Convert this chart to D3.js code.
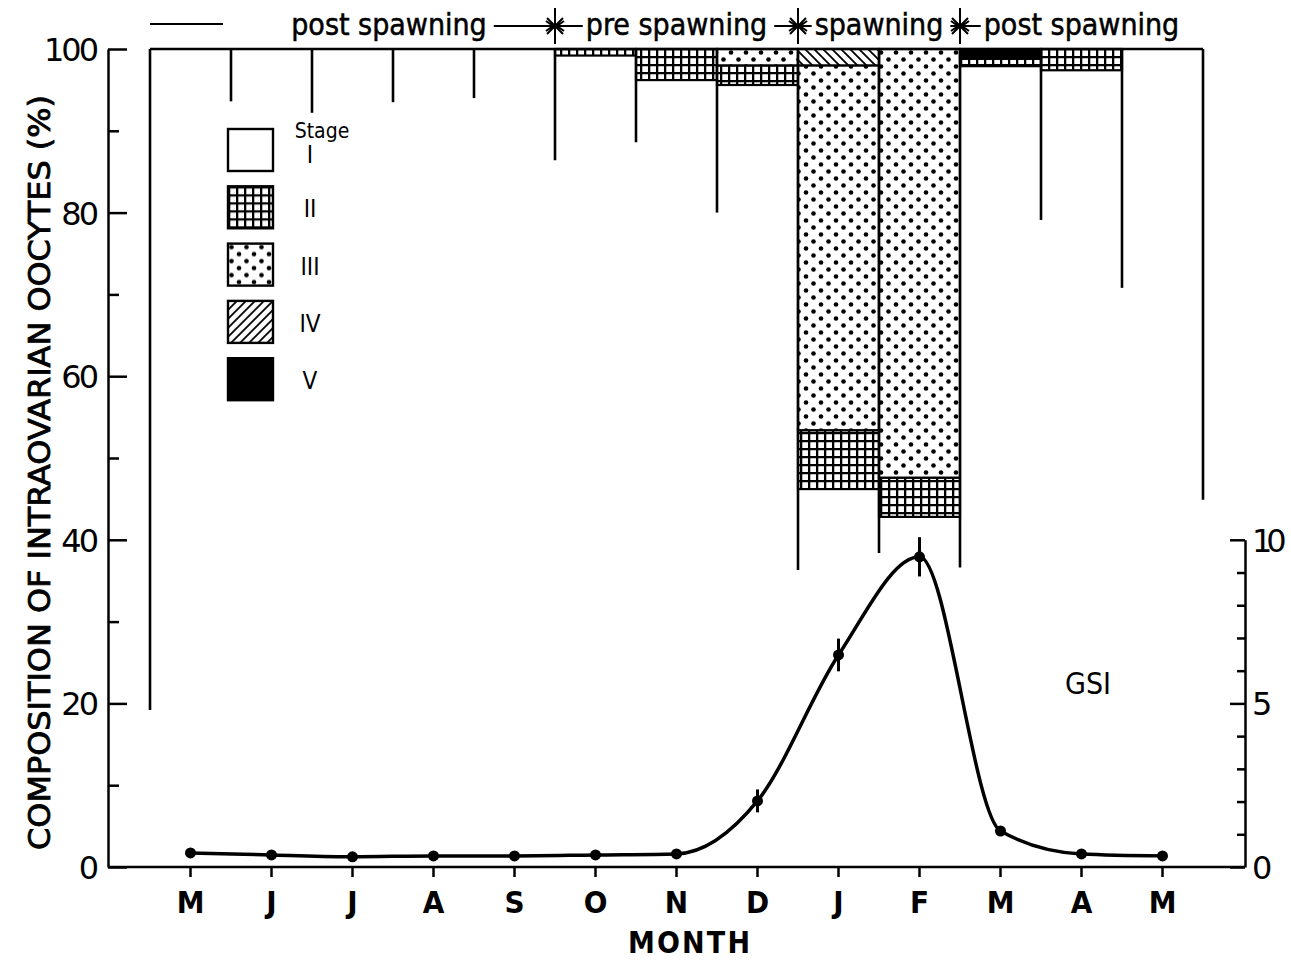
<!DOCTYPE html>
<html lang="en">
<head>
<meta charset="UTF-8">
<title>Composition of intraovarian oocytes and GSI</title>
<script src="https://d3js.org/d3.v7.min.js"></script>
<style>
    body { margin: 0; background: #fff; }
    svg { display: block; }
    .axis path, .axis line { stroke: #000; stroke-width: 2.5; }
    .num { font-family: "DejaVu Sans", sans-serif; font-size: 32px; fill: #000; letter-spacing: -3px; }
    .narrow { font-family: "Liberation Sans Narrow", "DejaVu Sans Condensed", sans-serif; fill: #000; }
    .phase { font-family: "DejaVu Sans Condensed", "DejaVu Sans", sans-serif; font-size: 30px; fill: #000; stroke: #000; stroke-width: 0.5px; }
</style>
</head>
<body>
<svg id="chart" width="1291" height="961"></svg>
<script>
// month categories (May -> May)
const months = ["M", "J", "J", "A", "S", "O", "N", "D", "J", "F", "M", "A", "M"];

// oocyte stage composition (%), per month
const stageI   = [100, 100, 100, 100, 100, 99.2, 96.2, 95.6, 46.2, 42.8, 97.9, 97.4, 100];
const stageII  = [0, 0, 0, 0, 0, 0.8, 3.8, 2.4, 7.2, 4.8, 0.9, 2.6, 0];
const stageIII = [0, 0, 0, 0, 0, 0, 0, 2.0, 44.6, 52.4, 0, 0, 0];
const stageIV  = [0, 0, 0, 0, 0, 0, 0, 0, 2.0, 0, 0, 0, 0];
const stageV   = [0, 0, 0, 0, 0, 0, 0, 0, 0, 0, 1.2, 0, 0];

// how far down (in %) each bar edge line is drawn (14 edges)
const edgeBottom = [19.2, 93.6, 92.2, 93.5, 94.0, 86.4, 88.6, 80.0, 36.3, 38.4, 36.6, 79.1, 70.8, 44.9];

// gonadosomatic index and its error
const gsi    = [0.43, 0.37, 0.31, 0.34, 0.34, 0.37, 0.40, 2.02, 6.48, 9.48, 1.10, 0.40, 0.34];
const gsiErr = [0, 0, 0, 0, 0, 0, 0, 0.35, 0.5, 0.6, 0, 0, 0];

// ticks
const yMajor = [0, 20, 40, 60, 80, 100];
const yMinor = [10, 30, 50, 70, 90];
const gMajor = [0, 5, 10];
const gMinor = [1, 2, 3, 4, 6, 7, 8, 9];

// phases along the top
const phases = [
    { label: "post spawning", from: 0, to: 5, lead: true },
    { label: "pre spawning", from: 5, to: 8 },
    { label: "spawning", from: 8, to: 10 },
    { label: "post spawning", from: 10, to: 13 }
];

const stageKeys = ["I", "II", "III", "IV", "V"];
const stageLabels = ["I", "II", "III", "IV", "V"];

const svg = d3.select("#chart");
const leftX = 108, rightX = 1245;

// scales
const x = d3.scaleBand().domain(d3.range(months.length)).range([150, 1203]).padding(0);
const edges = d3.range(months.length + 1).map(i => x.range()[0] + i * x.step());
const y = d3.scaleLinear().domain([0, 100]).range([867, 49]);
const yG = d3.scaleLinear().domain([0, 10]).range([867, y(40)]);

// patterns
const defs = svg.append("defs");
const grid = defs.append("pattern").attr("id", "grid").attr("patternUnits", "userSpaceOnUse")
    .attr("width", 8).attr("height", 8);
grid.append("rect").attr("width", 8).attr("height", 8).attr("fill", "#fff");
grid.append("path").attr("d", "M0,1 H8 M1,0 V8").attr("stroke", "#000").attr("stroke-width", 2.6);

const dots = defs.append("pattern").attr("id", "dots").attr("patternUnits", "userSpaceOnUse")
    .attr("width", 15).attr("height", 14);
dots.append("rect").attr("width", 15).attr("height", 14).attr("fill", "#fff");
dots.append("circle").attr("cx", 3.5).attr("cy", 3.5).attr("r", 2.3).attr("fill", "#000");
dots.append("circle").attr("cx", 11).attr("cy", 10.5).attr("r", 2.3).attr("fill", "#000");

function hatch(id, dir) {
    const p = defs.append("pattern").attr("id", id).attr("patternUnits", "userSpaceOnUse")
        .attr("width", 9).attr("height", 9);
    p.append("rect").attr("width", 9).attr("height", 9).attr("fill", "#fff");
    p.append("path")
        .attr("d", dir > 0 ? "M-2,11 L11,-2 M-2,2 L2,-2 M7,11 L11,7" : "M-2,-2 L11,11 M-2,7 L2,11 M7,-2 L11,2")
        .attr("stroke", "#000").attr("stroke-width", 1.8);
}
hatch("hatchBar", -1);
hatch("hatchLegend", 1);

const barFill = { I: "#fff", II: "url(#grid)", III: "url(#dots)", IV: "url(#hatchBar)", V: "#000" };
const legendFill = { I: "#fff", II: "url(#grid)", III: "url(#dots)", IV: "url(#hatchLegend)", V: "#000" };

// stacked bars
const table = months.map((m, i) => ({ I: stageI[i], II: stageII[i], III: stageIII[i], IV: stageIV[i], V: stageV[i] }));
const series = d3.stack().keys(stageKeys)(table);

series.filter(s => s.key !== "I").forEach(s => {
    svg.append("g").selectAll("rect")
        .data(s.map((d, i) => ({ d, i })).filter(e => e.d[1] - e.d[0] > 0))
        .enter().append("rect")
        .attr("x", e => x(e.i))
        .attr("width", x.step())
        .attr("y", e => y(e.d[1]))
        .attr("height", e => y(e.d[0]) - y(e.d[1]))
        .attr("fill", barFill[s.key])
        .attr("stroke", "#000")
        .attr("stroke-width", 2.2);
});

// bar edge lines and top border
svg.append("g").selectAll("line")
    .data(edges)
    .enter().append("line")
    .attr("x1", d => d).attr("x2", d => d)
    .attr("y1", y(100)).attr("y2", (d, i) => y(edgeBottom[i]))
    .attr("stroke", "#000").attr("stroke-width", 2.6);

svg.append("line")
    .attr("x1", edges[0]).attr("x2", edges[edges.length - 1])
    .attr("y1", y(100)).attr("y2", y(100))
    .attr("stroke", "#000").attr("stroke-width", 2.6);

// left axis
const gl = svg.append("g").attr("class", "axis").attr("transform", `translate(${leftX},0)`)
    .call(d3.axisLeft(y).tickValues(yMajor).tickSize(-19).tickSizeOuter(0).tickPadding(12).tickFormat(d3.format("d")));
gl.attr("font-size", null).attr("font-family", null);
gl.selectAll("text").attr("class", "num").attr("dy", "0.36em");

svg.append("g").attr("class", "axis").attr("transform", `translate(${leftX},0)`)
    .call(d3.axisLeft(y).tickValues(yMinor).tickSize(-11).tickFormat(""))
    .select(".domain").remove();

// right axis (GSI)
const gr = svg.append("g").attr("class", "axis").attr("transform", `translate(${rightX},0)`)
    .call(d3.axisRight(yG).tickValues(gMajor).tickSize(-15).tickSizeOuter(0).tickPadding(7).tickFormat(d3.format("d")));
gr.attr("font-size", null).attr("font-family", null);
gr.selectAll("text").attr("class", "num").attr("dy", "0.36em").style("letter-spacing", "-6px");

svg.append("g").attr("class", "axis").attr("transform", `translate(${rightX},0)`)
    .call(d3.axisRight(yG).tickValues(gMinor).tickSize(-8).tickFormat(""))
    .select(".domain").remove();

// bottom axis
svg.append("line")
    .attr("x1", leftX).attr("x2", rightX).attr("y1", y(0)).attr("y2", y(0))
    .attr("stroke", "#000").attr("stroke-width", 2.5);

const gb = svg.append("g").attr("class", "axis").attr("transform", `translate(0,${y(0)})`)
    .call(d3.axisBottom(x).tickSize(10).tickSizeOuter(0).tickPadding(14).tickFormat(i => months[i]));
gb.select(".domain").remove();
gb.attr("font-size", null).attr("font-family", null);
gb.selectAll("text").attr("class", "narrow").style("font-size", "31px").style("font-weight", "bold");

// axis titles
svg.append("text")
    .attr("class", "narrow")
    .attr("transform", `translate(50,${(95 + 850) / 2}) rotate(-90)`)
    .attr("text-anchor", "middle")
    .attr("textLength", 755).attr("lengthAdjust", "spacingAndGlyphs")
    .style("font-size", "31px")
    .style("stroke", "#000").style("stroke-width", "0.8px")
    .text("COMPOSITION OF INTRAOVARIAN OOCYTES (%)");

svg.append("text")
    .attr("class", "narrow")
    .attr("x", 689).attr("y", 953)
    .attr("text-anchor", "middle")
    .attr("textLength", 122).attr("lengthAdjust", "spacing")
    .style("font-size", "30px")
    .style("font-weight", "bold")
    .text("MONTH");

// GSI curve
const line = d3.line()
    .x((d, i) => x(i) + x.bandwidth() / 2)
    .y(d => yG(d))
    .curve(d3.curveMonotoneX);

svg.append("path")
    .datum(gsi)
    .attr("d", line)
    .attr("fill", "none")
    .attr("stroke", "#000")
    .attr("stroke-width", 3.5);

svg.append("g").selectAll("line")
    .data(gsi.map((v, i) => ({ v, i, e: gsiErr[i] })).filter(d => d.e > 0))
    .enter().append("line")
    .attr("x1", d => x(d.i) + x.bandwidth() / 2).attr("x2", d => x(d.i) + x.bandwidth() / 2)
    .attr("y1", d => yG(d.v + d.e)).attr("y2", d => yG(d.v - d.e))
    .attr("stroke", "#000").attr("stroke-width", 3);

svg.append("g").selectAll("circle")
    .data(gsi)
    .enter().append("circle")
    .attr("cx", (d, i) => x(i) + x.bandwidth() / 2)
    .attr("cy", d => yG(d))
    .attr("r", 5.5)
    .attr("fill", "#000");

svg.append("text")
    .attr("class", "narrow")
    .attr("x", 1088).attr("y", 694)
    .attr("text-anchor", "middle")
    .style("font-size", "30px")
    .text("GSI");

// legend
const legend = svg.append("g").attr("transform", "translate(228,129)");
stageKeys.forEach((k, i) => {
    const row = legend.append("g").attr("transform", `translate(0,${i * 57.3})`);
    row.append("rect")
        .attr("width", 45).attr("height", 42)
        .attr("fill", legendFill[k])
        .attr("stroke", "#000").attr("stroke-width", 2.4);
    row.append("text")
        .attr("class", "narrow")
        .attr("x", 82).attr("y", i === 0 ? 34 : 31)
        .attr("text-anchor", "middle")
        .style("font-size", "24px")
        .text(stageLabels[i]);
});
legend.append("text")
    .attr("class", "narrow")
    .attr("x", 94).attr("y", 9)
    .attr("text-anchor", "middle")
    .style("font-size", "21px")
    .text("Stage");

// spawning phases along the top
const header = svg.append("g");
const arrowY = 26;
const leadLen = 73;
const boxes = phases.map(p => {
    const x0 = edges[p.from] + (p.lead ? leadLen : 0);
    const x1 = edges[p.to];
    const t = header.append("text")
        .attr("class", "phase")
        .attr("x", (x0 + x1) / 2).attr("y", 35)
        .attr("text-anchor", "middle")
        .text(p.label);
    const w = t.node().getComputedTextLength();
    return { start: (x0 + x1) / 2 - w / 2, end: (x0 + x1) / 2 + w / 2 };
});

header.append("line")
    .attr("x1", edges[0]).attr("x2", edges[0] + leadLen)
    .attr("y1", arrowY - 2).attr("y2", arrowY - 2)
    .attr("stroke", "#000").attr("stroke-width", 2.2);

phases.slice(1).forEach((p, k) => {
    const bx = edges[p.from];
    const prevEnd = boxes[k].end + 7;
    const nextStart = boxes[k + 1].start - 3;
    const path = d3.path();
    // right arrow into boundary
    path.moveTo(prevEnd, arrowY); path.lineTo(bx - 2, arrowY);
    path.moveTo(bx - 9, arrowY - 5); path.lineTo(bx - 2, arrowY); path.lineTo(bx - 9, arrowY + 5);
    // left arrow out of boundary
    path.moveTo(Math.max(nextStart, bx + 5), arrowY); path.lineTo(bx + 2, arrowY);
    path.moveTo(bx + 9, arrowY - 5); path.lineTo(bx + 2, arrowY); path.lineTo(bx + 9, arrowY + 5);
    // asterisk
    path.moveTo(bx, 8); path.lineTo(bx, 44);
    path.moveTo(bx - 8, 18); path.lineTo(bx + 8, 34);
    path.moveTo(bx - 8, 34); path.lineTo(bx + 8, 18);
    header.append("path").attr("d", path.toString())
        .attr("fill", "none").attr("stroke", "#000").attr("stroke-width", 2);
});
</script>
</body>
</html>
